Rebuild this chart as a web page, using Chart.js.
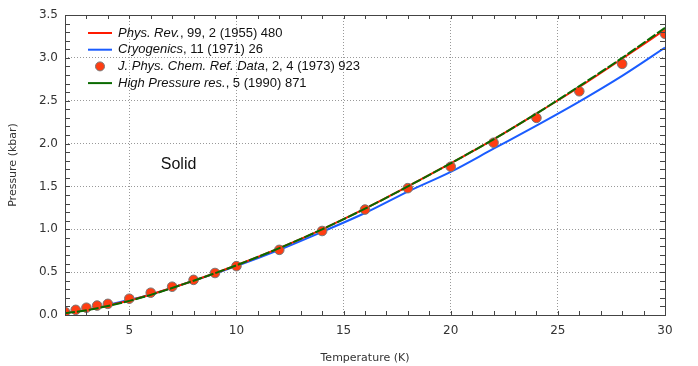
<!DOCTYPE html>
<html>
<head>
<meta charset="utf-8">
<script src="https://cdn.jsdelivr.net/npm/chart.js@4"></script>
<style>
  html, body { margin: 0; padding: 0; background: #fff; }
  #wrap { width: 698px; height: 366px; position: relative; }
</style>
</head>
<body>
<div id="wrap"><canvas id="my-chart"></canvas></div>
<script>
// temperatures (K) for the curves
const curveT = [2, 3, 4, 5, 6, 8, 10, 12, 14, 16, 18, 20, 22, 24, 26, 28, 30];
// Phys. Rev. 99, 2 (1955) 480
const physRev = [0.025, 0.06, 0.11, 0.17, 0.24, 0.40, 0.58, 0.78, 1.00, 1.24, 1.50, 1.77, 2.05, 2.35, 2.66, 2.99, 3.33];
// High Pressure res. 5 (1990) 871
const highPres = [0.02, 0.055, 0.105, 0.165, 0.235, 0.40, 0.58, 0.78, 1.00, 1.24, 1.50, 1.77, 2.05, 2.35, 2.67, 3.00, 3.35];
// Cryogenics 11 (1971) 26
const cryoT = [4, 5, 6, 8, 10, 12, 14, 16, 18, 20, 22, 24, 26, 28, 30];
const cryo = [0.12, 0.175, 0.24, 0.40, 0.57, 0.76, 0.97, 1.19, 1.44, 1.67, 1.94, 2.21, 2.49, 2.79, 3.12];
// J. Phys. Chem. Ref. Data 2, 4 (1973) 923
const jpcrT = [2, 2.5, 3, 3.5, 4, 5, 6, 7, 8, 9, 10, 12, 14, 16, 18, 20, 22, 24, 26, 28, 30];
const jpcr = [0.035, 0.06, 0.085, 0.11, 0.13, 0.19, 0.26, 0.33, 0.41, 0.49, 0.57, 0.76, 0.98, 1.23, 1.48, 1.73, 2.01, 2.30, 2.61, 2.93, 3.28];

const xTicks = [5, 10, 15, 20, 25, 30];
const yTicks = [0, 0.5, 1, 1.5, 2, 2.5, 3, 3.5];

const pts = (xs, ys) => xs.map((x, i) => ({ x: x, y: ys[i] }));

const legendItems = [
    { kind: 'line', color: '#ff1a00', it: 'Phys. Rev.', rest: ', 99, 2 (1955) 480' },
    { kind: 'line', color: '#1a5cff', it: 'Cryogenics', rest: ', 11 (1971) 26' },
    { kind: 'dot', color: '#ff3d12', it: 'J. Phys. Chem. Ref. Data', rest: ', 2, 4 (1973) 923' },
    { kind: 'line', color: '#0a6a00', it: 'High Pressure res.', rest: ', 5 (1990) 871' }
];

// inward ticks, frame, legend and label
const extras = {
    id: 'extras',
    afterDraw(chart) {
        const { ctx, chartArea: a, scales: { x, y } } = chart;
        ctx.save();
        ctx.strokeStyle = '#444';
        ctx.lineWidth = 1;
        ctx.beginPath();
        for (let v = 2; v <= 30; v++) {
            const px = Math.round(x.getPixelForValue(v)) + 0.5;
            const len = 4;
            ctx.moveTo(px, a.bottom); ctx.lineTo(px, a.bottom - len);
            ctx.moveTo(px, a.top); ctx.lineTo(px, a.top + len);
        }
        for (let i = 0; i <= 35; i++) {
            const py = Math.round(y.getPixelForValue(i / 10)) + 0.5;
            const len = 5;
            ctx.moveTo(a.left, py); ctx.lineTo(a.left + len, py);
            ctx.moveTo(a.right, py); ctx.lineTo(a.right - len, py);
        }
        ctx.stroke();
        ctx.strokeStyle = '#444';
        ctx.strokeRect(Math.round(a.left) + 0.5, Math.round(a.top) + 0.5,
            Math.round(a.right - a.left), Math.round(a.bottom - a.top));

        // legend
        let ly = 33;
        legendItems.forEach(item => {
            if (item.kind === 'line') {
                ctx.strokeStyle = item.color;
                ctx.lineWidth = 2;
                ctx.beginPath();
                ctx.moveTo(88, ly); ctx.lineTo(112, ly);
                ctx.stroke();
            } else {
                ctx.fillStyle = item.color;
                ctx.strokeStyle = '#777';
                ctx.lineWidth = 1;
                ctx.beginPath();
                ctx.arc(100, ly, 4.5, 0, Math.PI * 2);
                ctx.fill(); ctx.stroke();
            }
            ctx.fillStyle = '#111';
            ctx.textBaseline = 'middle';
            ctx.textAlign = 'left';
            ctx.font = 'italic 13px "Liberation Sans", Arial, sans-serif';
            ctx.fillText(item.it, 118, ly);
            const w = ctx.measureText(item.it).width;
            ctx.font = '13px "Liberation Sans", Arial, sans-serif';
            ctx.fillText(item.rest, 118 + w, ly);
            ly += 16.7;
        });

        ctx.font = '16px "Liberation Sans", Arial, sans-serif';
        ctx.textAlign = 'center';
        ctx.fillStyle = '#111';
        ctx.fillText('Solid', x.getPixelForValue(7.3), y.getPixelForValue(1.75));
        ctx.restore();
    }
};

const ctxLine = document.getElementById('my-chart').getContext('2d');
new Chart(ctxLine, {
    type: 'scatter',
    data: {
        datasets: [
            {
                label: 'Phys. Rev., 99, 2 (1955) 480',
                data: pts(curveT, physRev),
                showLine: true, borderColor: '#ff1a00', borderWidth: 2,
                pointRadius: 0, cubicInterpolationMode: 'monotone', order: 3
            },
            {
                label: 'Cryogenics, 11 (1971) 26',
                data: pts(cryoT, cryo),
                showLine: true, borderColor: '#1a5cff', borderWidth: 2,
                pointRadius: 0, cubicInterpolationMode: 'monotone', order: 4
            },
            {
                label: 'J. Phys. Chem. Ref. Data, 2, 4 (1973) 923',
                data: pts(jpcrT, jpcr),
                showLine: false, backgroundColor: '#ff3d12', borderColor: '#777',
                borderWidth: 1, pointRadius: 4.8, order: 2
            },
            {
                label: 'High Pressure res., 5 (1990) 871',
                data: pts(curveT, highPres),
                showLine: true, borderColor: '#0a6a00', borderWidth: 2, borderDash: [10, 2],
                pointRadius: 0, cubicInterpolationMode: 'monotone', order: 1
            }
        ]
    },
    options: {
        responsive: true,
        maintainAspectRatio: false,
        animation: false,
        layout: { padding: { top: 15, right: 33, left: 0, bottom: 0 } },
        plugins: { legend: { display: false }, tooltip: { enabled: false } },
        scales: {
            x: {
                type: 'linear', min: 2, max: 30,
                afterBuildTicks: s => { s.ticks = xTicks.map(v => ({ value: v })); },
                afterFit: s => { s.height = 51; },
                grid: { color: '#999', drawTicks: false },
                border: { display: false, dash: [1, 2] },
                ticks: { color: '#333', padding: 9, font: { family: 'DejaVu Sans', size: 12 }, maxRotation: 0 },
                title: { display: true, text: 'Temperature (K)', color: '#333', padding: { top: 9, bottom: 1 }, font: { family: 'DejaVu Sans', size: 11 } }
            },
            y: {
                min: 0, max: 3.5,
                afterBuildTicks: s => { s.ticks = yTicks.map(v => ({ value: v })); },
                afterFit: s => { s.width = 65; },
                grid: { color: '#999', drawTicks: false },
                border: { display: false, dash: [1, 2] },
                ticks: { color: '#333', padding: 7, font: { family: 'DejaVu Sans', size: 12 }, callback: v => v.toFixed(1) },
                title: { display: true, text: 'Pressure (kbar)', color: '#333', padding: { top: 7, bottom: 2 }, font: { family: 'DejaVu Sans', size: 11 } }
            }
        }
    },
    plugins: [extras]
});
</script>
</body>
</html>
